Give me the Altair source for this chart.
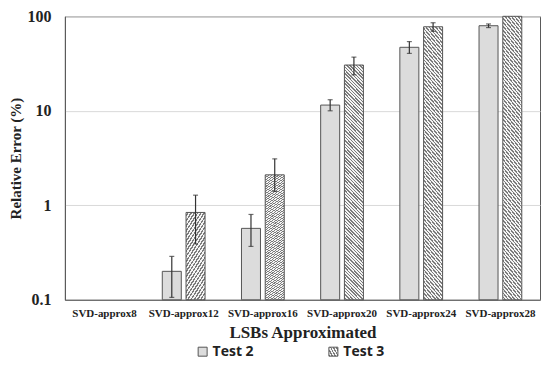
import altair as alt
import pandas as pd

categories = ["SVD-approx8", "SVD-approx12", "SVD-approx16", "SVD-approx20", "SVD-approx24", "SVD-approx28"]
series = ["Test 2", "Test 3"]
test2 = [None, 0.20, 0.57, 11.5, 47.0, 79.5]
test2_lo = [None, 0.106, 0.367, 10.0, 40.5, 76.0]
test2_hi = [None, 0.288, 0.80, 13.1, 54.0, 83.0]
test3 = [None, 0.84, 2.1, 30.5, 77.5, 100.0]
test3_lo = [None, 0.39, 1.4, 24.0, 69.5, None]
test3_hi = [None, 1.28, 3.1, 37.0, 85.5, None]
y_ticks = [0.1, 1, 10, 100]
y_min = 0.1

rows = []
for i, c in enumerate(categories):
    rows.append({"cat": c, "series": "Test 2", "v": test2[i], "lo": test2_lo[i], "hi": test2_hi[i]})
    rows.append({"cat": c, "series": "Test 3", "v": test3[i], "lo": test3_lo[i], "hi": test3_hi[i]})
df = pd.DataFrame(rows)

# diagonal hatch via a striped linear gradient
light, dark = "#f4f4f4", "#7c7c7c"
n = 76
stops = []
for i in range(n):
    s = i / n
    e = (i + 1) / n
    m = s + 0.55 * (e - s)
    stops.append("{offset:%.5f,color:'%s'}" % (s, light))
    stops.append("{offset:%.5f,color:'%s'}" % (m, light))
    stops.append("{offset:%.5f,color:'%s'}" % (m, dark))
    stops.append("{offset:%.5f,color:'%s'}" % (e, dark))
hatch_expr = "{gradient:'linear',x1:0,y1:1,x2:0.0897,y2:-0.076,stops:[" + ",".join(stops) + "]}"

serif = "Liberation Serif"

x_enc = alt.X("cat:N", sort=categories, scale=alt.Scale(domain=categories, paddingInner=0.46, paddingOuter=0.23),
              axis=alt.Axis(title="LSBs Approximated", labelAngle=0, labelFont=serif, labelFontWeight="bold",
                            labelFontSize=11, labelColor="#222", titleFont=serif, titleFontWeight="bold",
                            titleFontSize=17, titleColor="#222", titlePadding=6, ticks=False,
                            labelPadding=8, domainColor="#595959", grid=False))
xo_enc = alt.XOffset("series:N", sort=series, scale=alt.Scale(domain=series, paddingInner=0.2))
y_scale = alt.Scale(type="log", domain=[0.1, 100])

base = alt.Chart(df)

bars = base.transform_filter("datum.v != null").mark_bar(stroke="#555555", strokeWidth=1).encode(
    x=x_enc,
    xOffset=xo_enc,
    y=alt.Y("v:Q", scale=y_scale,
            axis=alt.Axis(title="Relative Error (%)", values=y_ticks, labelExpr="datum.value >= 1 ? format(datum.value, 'd') : '0.1'",
                          labelFont=serif, labelFontWeight="bold", labelFontSize=16, labelColor="#222",
                          titleFont=serif, titleFontWeight="bold", titleFontSize=15, titleColor="#222",
                          ticks=False, labelPadding=14, titlePadding=3, gridColor="#d9d9d9",
                          domainColor="#595959")),
    y2=alt.Y2(datum=y_min),
    fill=alt.Fill("series:N", sort=series,
                  scale=alt.Scale(domain=series, range=["#dcdcdc", alt.ExprRef(hatch_expr)]),
                  legend=alt.Legend(title=None, orient="none", legendX=131, legendY=329, direction="horizontal",
                                    symbolType="square", symbolSize=81, symbolStrokeColor="#555555",
                                    symbolStrokeWidth=1, labelFont="Open Sans", labelFontWeight="bold",
                                    labelFontSize=14, labelColor="#222", columnPadding=72, labelOffset=3)),
)

err = base.transform_filter("datum.lo != null")
rules = err.mark_rule(color="#333333", strokeWidth=1.2).encode(
    x=alt.X("cat:N", sort=categories), xOffset=alt.XOffset("series:N", sort=series),
    y="lo:Q", y2="hi:Q")
cap_lo = err.mark_tick(color="#333333", thickness=1.2, size=5).encode(
    x=alt.X("cat:N", sort=categories), xOffset=alt.XOffset("series:N", sort=series), y="lo:Q")
cap_hi = err.mark_tick(color="#333333", thickness=1.2, size=5).encode(
    x=alt.X("cat:N", sort=categories), xOffset=alt.XOffset("series:N", sort=series), y="hi:Q")

chart = alt.layer(bars, rules, cap_lo, cap_hi).properties(
    width=476, height=284,
    autosize=alt.AutoSizeParams(type="none"),
    padding={"left": 57, "top": 8, "right": 2, "bottom": 62},
    background="white",
).configure_view(stroke="#595959", strokeWidth=1)

chart.save("out.html", embed_options={"renderer": "svg", "actions": False})
